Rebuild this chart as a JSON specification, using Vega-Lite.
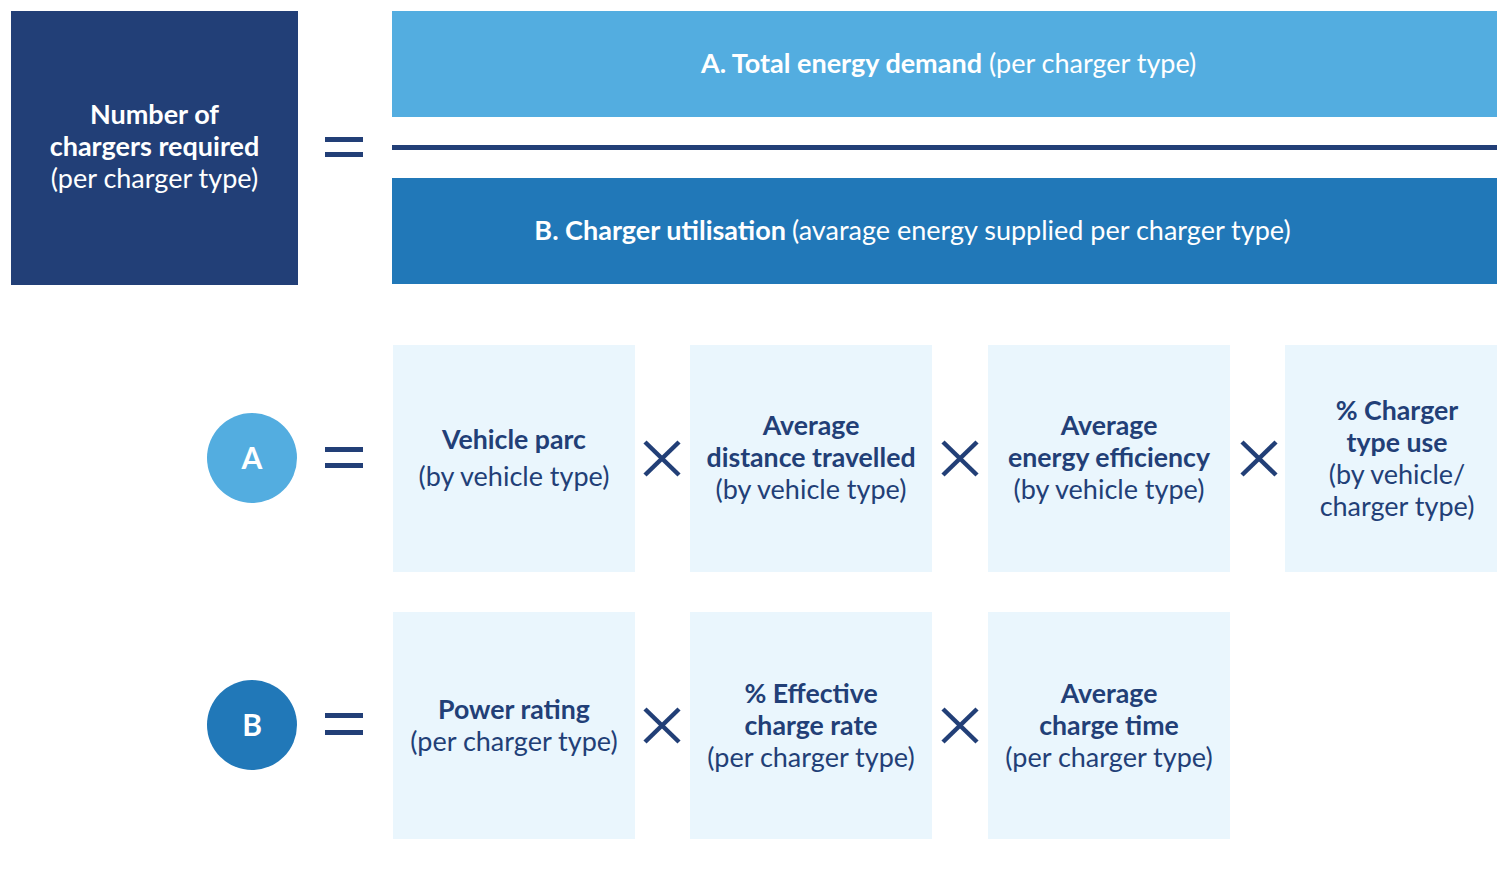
{
  "$schema": "https://vega.github.io/schema/vega-lite/v6.json",
  "width": 1497,
  "height": 895,
  "padding": 0,
  "autosize": {"type": "fit", "contains": "padding"},
  "background": "white",
  "config": {"view": {"stroke": null}, "text": {"font": "Lato"}},
  "datasets": {
    "rects": [
      {"kind": "result", "x": 11, "x2": 298, "y": 11, "y2": 285},
      {"kind": "A", "x": 392, "x2": 1497, "y": 11, "y2": 117},
      {"kind": "divider", "x": 392, "x2": 1497, "y": 145, "y2": 150},
      {"kind": "B", "x": 392, "x2": 1497, "y": 178, "y2": 284},
      {"kind": "equals", "x": 325, "x2": 363, "y": 137, "y2": 142},
      {"kind": "equals", "x": 325, "x2": 363, "y": 152, "y2": 157},
      {"kind": "equals", "x": 325, "x2": 363, "y": 447, "y2": 452},
      {"kind": "equals", "x": 325, "x2": 363, "y": 463, "y2": 468},
      {"kind": "equals", "x": 325, "x2": 363, "y": 713, "y2": 718},
      {"kind": "equals", "x": 325, "x2": 363, "y": 730, "y2": 735},
      {"kind": "factor", "x": 393, "x2": 635, "y": 345, "y2": 572},
      {"kind": "factor", "x": 690, "x2": 932, "y": 345, "y2": 572},
      {"kind": "factor", "x": 988, "x2": 1230, "y": 345, "y2": 572},
      {"kind": "factor", "x": 1285, "x2": 1497, "y": 345, "y2": 572},
      {"kind": "factor", "x": 393, "x2": 635, "y": 612, "y2": 839},
      {"kind": "factor", "x": 690, "x2": 932, "y": 612, "y2": 839},
      {"kind": "factor", "x": 988, "x2": 1230, "y": 612, "y2": 839}
    ],
    "circles": [
      {"kind": "A", "x": 252, "y": 458, "label": "A"},
      {"kind": "B", "x": 252, "y": 725, "label": "B"}
    ],
    "crosses": [
      {"x": 645, "y": 442, "x2": 679, "y2": 475},
      {"x": 645, "y": 475, "x2": 679, "y2": 442},
      {"x": 943, "y": 442, "x2": 977, "y2": 475},
      {"x": 943, "y": 475, "x2": 977, "y2": 442},
      {"x": 1242, "y": 442, "x2": 1276, "y2": 475},
      {"x": 1242, "y": 475, "x2": 1276, "y2": 442},
      {"x": 645, "y": 709, "x2": 679, "y2": 742},
      {"x": 645, "y": 742, "x2": 679, "y2": 709},
      {"x": 943, "y": 709, "x2": 977, "y2": 742},
      {"x": 943, "y": 742, "x2": 977, "y2": 709}
    ],
    "texts": [
      {"role": "resultBold", "x": 154.5, "y": 116, "text": "Number of"},
      {"role": "resultBold", "x": 154.5, "y": 148, "text": "chargers required"},
      {"role": "resultNormal", "x": 154.5, "y": 180, "text": "(per charger type)"},
      {"role": "barBold", "x": 982, "y": 65, "text": "A. Total energy demand"},
      {"role": "barNormal", "x": 989, "y": 65, "text": "(per charger type)"},
      {"role": "barBold", "x": 786, "y": 232, "text": "B. Charger utilisation"},
      {"role": "barNormal", "x": 792, "y": 232, "text": "(avarage energy supplied per charger type)"},
      {"role": "boxBold", "x": 514, "y": 441, "text": "Vehicle parc"},
      {"role": "boxNormal", "x": 514, "y": 478, "text": "(by vehicle type)"},
      {"role": "boxBold", "x": 811, "y": 427, "text": "Average"},
      {"role": "boxBold", "x": 811, "y": 459, "text": "distance travelled"},
      {"role": "boxNormal", "x": 811, "y": 491, "text": "(by vehicle type)"},
      {"role": "boxBold", "x": 1109, "y": 427, "text": "Average"},
      {"role": "boxBold", "x": 1109, "y": 459, "text": "energy efficiency"},
      {"role": "boxNormal", "x": 1109, "y": 491, "text": "(by vehicle type)"},
      {"role": "boxBold", "x": 1397, "y": 412, "text": "% Charger"},
      {"role": "boxBold", "x": 1397, "y": 444, "text": "type use"},
      {"role": "boxNormal", "x": 1397, "y": 476, "text": "(by vehicle/"},
      {"role": "boxNormal", "x": 1397, "y": 508, "text": "charger type)"},
      {"role": "boxBold", "x": 514, "y": 711, "text": "Power rating"},
      {"role": "boxNormal", "x": 514, "y": 743, "text": "(per charger type)"},
      {"role": "boxBold", "x": 811, "y": 695, "text": "% Effective"},
      {"role": "boxBold", "x": 811, "y": 727, "text": "charge rate"},
      {"role": "boxNormal", "x": 811, "y": 759, "text": "(per charger type)"},
      {"role": "boxBold", "x": 1109, "y": 695, "text": "Average"},
      {"role": "boxBold", "x": 1109, "y": 727, "text": "charge time"},
      {"role": "boxNormal", "x": 1109, "y": 759, "text": "(per charger type)"}
    ]
  },
  "layer": [
    {
      "data": {"name": "rects"},
      "mark": {"type": "rect"},
      "encoding": {
        "x": {"field": "x", "type": "quantitative", "scale": {"domain": [0, 1497], "nice": false, "zero": false}, "axis": null},
        "x2": {"field": "x2"},
        "y": {"field": "y", "type": "quantitative", "scale": {"domain": [0, 895], "nice": false, "zero": false, "reverse": true}, "axis": null},
        "y2": {"field": "y2"},
        "color": {
          "field": "kind", "type": "nominal", "legend": null,
          "scale": {"domain": ["result", "A", "B", "divider", "equals", "factor"], "range": ["#223f77", "#53ade0", "#2178b8", "#223f77", "#223f77", "#eaf6fd"]}
        }
      }
    },
    {
      "data": {"name": "circles"},
      "mark": {"type": "circle", "size": 8100, "opacity": 1},
      "encoding": {
        "x": {"field": "x", "type": "quantitative", "axis": null},
        "y": {"field": "y", "type": "quantitative", "axis": null},
        "color": {"field": "kind", "type": "nominal", "legend": null}
      }
    },
    {
      "data": {"name": "crosses"},
      "mark": {"type": "rule", "color": "#223f77", "strokeWidth": 4.5},
      "encoding": {
        "x": {"field": "x", "type": "quantitative", "axis": null},
        "y": {"field": "y", "type": "quantitative", "axis": null},
        "x2": {"field": "x2"},
        "y2": {"field": "y2"}
      }
    },
    {
      "data": {"name": "circles"},
      "mark": {"type": "text", "font": "Lato", "fontWeight": "bold", "fontSize": 30, "color": "white", "baseline": "middle", "align": "center", "dy": 2},
      "encoding": {
        "x": {"field": "x", "type": "quantitative", "axis": null},
        "y": {"field": "y", "type": "quantitative", "axis": null},
        "text": {"field": "label"}
      }
    },
    {
      "data": {"name": "texts"},
      "transform": [{"filter": "datum.role == 'resultBold'"}],
      "mark": {"type": "text", "font": "Lato", "fontWeight": "bold", "fontSize": 27, "color": "white", "baseline": "middle", "align": "center"},
      "encoding": {
        "x": {"field": "x", "type": "quantitative", "axis": null},
        "y": {"field": "y", "type": "quantitative", "axis": null},
        "text": {"field": "text"}
      }
    },
    {
      "data": {"name": "texts"},
      "transform": [{"filter": "datum.role == 'resultNormal'"}],
      "mark": {"type": "text", "font": "Lato", "fontWeight": "normal", "fontSize": 27, "color": "white", "baseline": "middle", "align": "center"},
      "encoding": {
        "x": {"field": "x", "type": "quantitative", "axis": null},
        "y": {"field": "y", "type": "quantitative", "axis": null},
        "text": {"field": "text"}
      }
    },
    {
      "data": {"name": "texts"},
      "transform": [{"filter": "datum.role == 'barBold'"}],
      "mark": {"type": "text", "font": "Lato", "fontWeight": "bold", "fontSize": 27, "color": "white", "baseline": "middle", "align": "right"},
      "encoding": {
        "x": {"field": "x", "type": "quantitative", "axis": null},
        "y": {"field": "y", "type": "quantitative", "axis": null},
        "text": {"field": "text"}
      }
    },
    {
      "data": {"name": "texts"},
      "transform": [{"filter": "datum.role == 'barNormal'"}],
      "mark": {"type": "text", "font": "Lato", "fontWeight": "normal", "fontSize": 27, "color": "white", "baseline": "middle", "align": "left"},
      "encoding": {
        "x": {"field": "x", "type": "quantitative", "axis": null},
        "y": {"field": "y", "type": "quantitative", "axis": null},
        "text": {"field": "text"}
      }
    },
    {
      "data": {"name": "texts"},
      "transform": [{"filter": "datum.role == 'boxBold'"}],
      "mark": {"type": "text", "font": "Lato", "fontWeight": "bold", "fontSize": 26.7, "color": "#223f77", "baseline": "middle", "align": "center"},
      "encoding": {
        "x": {"field": "x", "type": "quantitative", "axis": null},
        "y": {"field": "y", "type": "quantitative", "axis": null},
        "text": {"field": "text"}
      }
    },
    {
      "data": {"name": "texts"},
      "transform": [{"filter": "datum.role == 'boxNormal'"}],
      "mark": {"type": "text", "font": "Lato", "fontWeight": "normal", "fontSize": 27, "color": "#223f77", "baseline": "middle", "align": "center"},
      "encoding": {
        "x": {"field": "x", "type": "quantitative", "axis": null},
        "y": {"field": "y", "type": "quantitative", "axis": null},
        "text": {"field": "text"}
      }
    }
  ]
}
